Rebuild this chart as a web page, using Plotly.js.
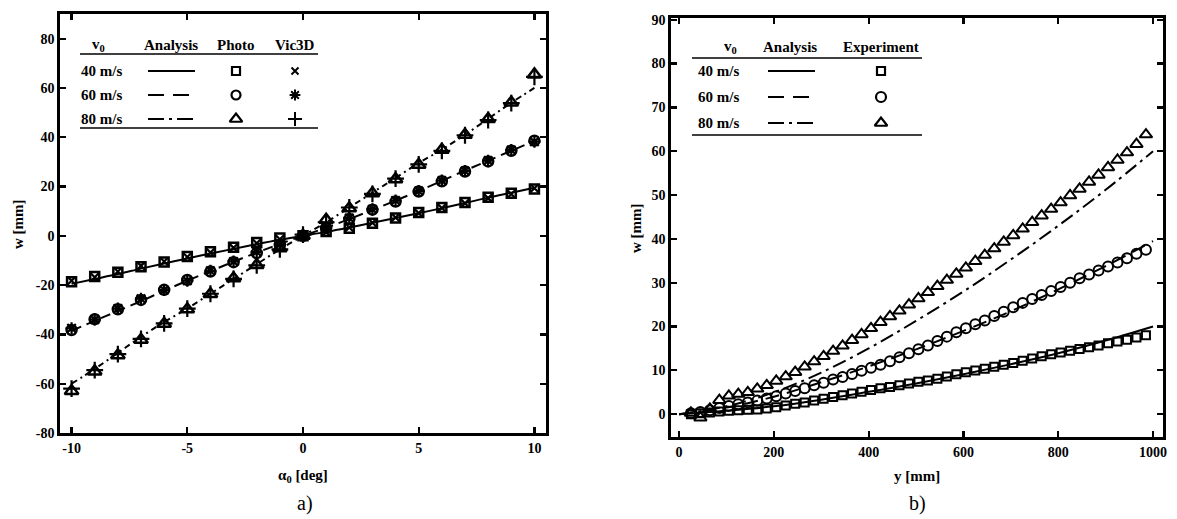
<!DOCTYPE html>
<html>
<head>
<meta charset="utf-8">
<script src="https://cdn.plot.ly/plotly-3.0.1.min.js"></script>
<style>html,body{margin:0;padding:0;background:#fff}#chart{width:1177px;height:519px}</style>
</head>
<body>
<div id="chart"></div>
<script>
// ---------- Panel a) data ----------
const alpha = [-10,-9,-8,-7,-6,-5,-4,-3,-2,-1,0,1,2,3,4,5,6,7,8,9,10];
const anaA40 = [-19.5,-17.5,-15.5,-13.3,-11.2,-9.2,-7.2,-5.3,-3.4,-1.6,0,1.6,3.4,5.3,7.2,9.2,11.2,13.3,15.5,17.5,19.5];
const anaA60 = [-38.5,-34.5,-30.5,-26.5,-22.3,-18.2,-14.3,-10.5,-6.8,-3.3,0,3.3,6.8,10.5,14.3,18.2,22.3,26.5,30.5,34.5,38.5];
const anaA80 = [-60,-54,-47.5,-41,-35,-29.5,-23.5,-17.5,-11.5,-5.5,0,5.5,11.5,17.5,23.5,29.5,35,41,47.5,54,60];
const photo40 = [-18.6,-16.5,-14.8,-12.5,-10.6,-8.4,-6.5,-4.6,-2.7,-0.9,0,1.8,3.1,5.1,7.2,9.5,11.5,13.5,15.6,17.3,19.0];
const photo60 = [-38.2,-33.8,-29.8,-26.0,-21.9,-17.9,-14.5,-10.7,-7.0,-3.7,0,3.2,6.8,10.6,13.9,18.0,22.1,26.1,30.2,34.5,38.6];
const photo80 = [-63,-55,-48.5,-42.2,-35.7,-29.8,-23.6,-17.2,-11.8,-5.0,0,6.5,11.2,17.3,23,28.8,34.9,41,47.4,54.1,65.5];
const vic40 = [-18.2,-16.8,-14.5,-12.2,-10.4,-8.6,-6.8,-4.9,-3.0,-1.4,0.2,1.5,3.4,5.3,7.4,9.2,11.3,13.2,15.3,17.0,19.3];
const vic60 = [-37.5,-34,-29.5,-25.5,-22,-18.2,-14.2,-10.4,-6.5,-3.5,0.3,3.5,7.2,10.8,14.3,18.2,22.4,26.3,30.5,34.8,38.2];
const vic80 = [-62,-54.5,-48,-41.8,-35.5,-29.5,-23.5,-17.5,-12,-5.5,0.5,5.5,11.5,17,23.2,29,34.5,40.8,47,53.8,64.5];
const tickA_x = [-10,-5,0,5,10];
const tickA_xText = ['-10','-5','0','5','10'];
const tickA_y = [-80,-60,-40,-20,0,20,40,60,80];
const tickA_yText = ['-80','-60','-40','-20','0','20','40','60','80'];

// ---------- Panel b) data ----------
const yAna = [0,100,200,300,400,500,600,700,800,900,1000];
const anaB40 = [0,0.8,1.8,3.3,5.1,7.0,9.1,11.4,13.9,16.8,20];
const anaB60 = [0,1.5,4.0,7.3,10.9,14.8,19.0,23.5,28.5,33.8,39.5];
const anaB80 = [0,1.8,5.0,9.5,15.0,21.3,28.0,35.3,43.0,51.2,60];
const yExp = [25,45,65,85,105,125,145,165,185,205,225,245,265,285,305,325,345,365,385,405,425,445,465,485,505,525,545,565,585,605,625,645,665,685,705,725,745,765,785,805,825,845,865,885,905,925,945,965,985];
const exp40 = [0.0,0.2,0.4,0.6,0.8,0.9,1.0,1.1,1.3,1.6,2.0,2.4,2.7,3.1,3.5,3.9,4.3,4.7,5.1,5.5,5.9,6.2,6.6,7.0,7.4,7.7,8.1,8.6,9.1,9.6,10.0,10.4,10.8,11.3,11.7,12.2,12.7,13.2,13.7,14.1,14.5,14.9,15.3,15.7,16.2,16.6,17.0,17.5,18.0];
const exp60 = [0.2,0.5,0.9,1.4,1.9,2.3,2.7,3.1,3.6,4.1,4.7,5.3,5.9,6.6,7.2,7.9,8.5,9.2,9.9,10.6,11.3,12.1,13.0,13.9,14.8,15.7,16.7,17.7,18.7,19.6,20.5,21.4,22.4,23.4,24.4,25.4,26.3,27.2,28.1,29.0,30.0,31.0,31.9,32.8,33.7,34.6,35.6,36.6,37.5];
const exp80 = [0.3,-0.8,1.2,3.2,4.2,4.6,5.0,5.8,6.6,7.6,8.6,9.6,10.8,12.0,13.2,14.4,15.6,16.9,18.2,19.6,21.0,22.3,23.6,25.0,26.4,27.8,29.2,30.6,32.0,33.4,34.9,36.3,37.8,39.3,40.8,42.3,43.8,45.3,46.8,48.3,49.9,51.4,53.0,54.6,56.3,58.0,59.7,61.6,63.8];
const tickB_x = [0,200,400,600,800,1000];
const tickB_y = [0,10,20,30,40,50,60,70,80,90];

// ---------- legend table text ----------
const speeds = ['40 m/s','60 m/s','80 m/s'];
const headA = ['v<sub>0</sub>','Analysis','Photo','Vic3D'];
const headB = ['v<sub>0</sub>','Analysis','Experiment'];

const W = 1177, H = 519;
const serif = '"Liberation Serif", "Times New Roman", serif';
const K = 'black';
const dashA = ['solid','10px,6px','6px,4px,2px,4px'];
const dashB = ['solid','14px,8px','14px,5px,3px,5px'];
const legDash = ['solid','16px,9px','16px,5px,3px,5px'];
const photoSym = ['square-open','circle-open','triangle-up-open'];
const vicSym = ['x-thin','asterisk','cross-thin'];
const bold = (s)=>({family:serif,size:s,color:K,weight:'bold'});

const traces = [];
[anaA40, anaA60, anaA80].forEach((v,i)=>traces.push({x:alpha,y:v,mode:'lines',line:{color:K,width:2,dash:dashA[i],shape:'spline'},xaxis:'x',yaxis:'y',hoverinfo:'skip'}));
[photo40, photo60, photo80].forEach((v,i)=>traces.push({x:alpha,y:v,mode:'markers',marker:{symbol:photoSym[i],size:[9,10,12][i],color:K,line:{color:K,width:2.5}},xaxis:'x',yaxis:'y'}));
[vic40, vic60, vic80].forEach((v,i)=>traces.push({x:alpha,y:v,mode:'markers',marker:{symbol:vicSym[i],size:[8,10,12][i],color:K,line:{color:K,width:2.2}},xaxis:'x',yaxis:'y'}));
[anaB40, anaB60, anaB80].forEach((v,i)=>traces.push({x:yAna,y:v,mode:'lines',line:{color:K,width:2,dash:dashB[i],shape:'spline'},xaxis:'x2',yaxis:'y2',hoverinfo:'skip'}));
[exp40, exp60, exp80].forEach((v,i)=>traces.push({x:yExp,y:v,mode:'markers',marker:{symbol:photoSym[i],size:[8,10,11][i],color:K,line:{color:K,width:2}},xaxis:'x2',yaxis:'y2'}));

const annotations = [];
const shapes = [];
function txt(x,y,t,opt){annotations.push(Object.assign({x:x/W,y:1-y/H,xref:'paper',yref:'paper',text:t,showarrow:false,xanchor:'center',yanchor:'middle',font:bold(15)},opt||{}));}
function hline(x0,x1,y){shapes.push({type:'line',xref:'paper',yref:'paper',x0:x0/W,x1:x1/W,y0:1-y/H,y1:1-y/H,line:{color:K,width:1.3}});}

// table A
const tA = {l:80,r:318,head:45,line1:54,rows:[71,95,119],line2:128,cols:[98,171,236,295],samp:[148,195]};
headA.forEach((h,j)=>txt(tA.cols[j],tA.head,h));
hline(tA.l,tA.r,tA.line1); hline(tA.l,tA.r,tA.line2);
speeds.forEach((s,i)=>{
  txt(tA.cols[0]+3,tA.rows[i],s);
  traces.push({x:tA.samp,y:[tA.rows[i],tA.rows[i]],mode:'lines',line:{color:K,width:2,dash:legDash[i]},xaxis:'x3',yaxis:'y3',hoverinfo:'skip'});
  traces.push({x:[tA.cols[2]],y:[tA.rows[i]],mode:'markers',marker:{symbol:photoSym[i],size:[8,9,11][i],color:K,line:{color:K,width:2.2}},xaxis:'x3',yaxis:'y3'});
  traces.push({x:[tA.cols[3]],y:[tA.rows[i]],mode:'markers',marker:{symbol:vicSym[i],size:[7,9,10][i],color:K,line:{color:K,width:2}},xaxis:'x3',yaxis:'y3'});
});
// table B
const tB = {l:692,r:922,head:47,line1:58,rows:[71,97,123],line2:135,cols:[730,790,881],samp:[768,815]};
headB.forEach((h,j)=>txt(tB.cols[j],tB.head,h));
hline(tB.l,tB.r,tB.line1); hline(tB.l,tB.r,tB.line2);
speeds.forEach((s,i)=>{
  txt(tB.cols[0]-12,tB.rows[i],s);
  traces.push({x:tB.samp,y:[tB.rows[i],tB.rows[i]],mode:'lines',line:{color:K,width:2,dash:legDash[i]},xaxis:'x3',yaxis:'y3',hoverinfo:'skip'});
  traces.push({x:[tB.cols[2]],y:[tB.rows[i]],mode:'markers',marker:{symbol:photoSym[i],size:[8,10,11][i],color:K,line:{color:K,width:2.2}},xaxis:'x3',yaxis:'y3'});
});

txt(18,224,'w [mm]',{textangle:-90,font:bold(15)});
txt(636,228,'w [mm]',{textangle:-90,font:bold(15)});
txt(303,476,'α<sub>0</sub> [deg]');
txt(917,476,'y [mm]');
txt(305,503,'a)',{font:{family:serif,size:20,color:K}});
txt(917,503,'b)',{font:{family:serif,size:20,color:K}});

const axBase = {showline:true,linecolor:K,linewidth:2.8,mirror:'ticks',ticks:'inside',ticklen:6,tickwidth:2.2,tickcolor:K,showgrid:false,zeroline:false,tickfont:bold(14)};
const layout = {
  width:W,height:H,margin:{l:0,r:0,t:0,b:0},paper_bgcolor:'#fff',plot_bgcolor:'rgba(0,0,0,0)',showlegend:false,
  xaxis:Object.assign({},axBase,{domain:[60/W,546/W],range:[-10.5,10.5],tickmode:'array',tickvals:tickA_x,ticktext:tickA_xText,anchor:'y'}),
  yaxis:Object.assign({},axBase,{domain:[1-433/H,1-14/H],range:[-80,90],tickmode:'array',tickvals:tickA_y,ticktext:tickA_yText,anchor:'x'}),
  xaxis2:Object.assign({},axBase,{domain:[671/W,1163/W],range:[-17,1021],tickmode:'array',tickvals:tickB_x,ticktext:tickB_x.map(String),anchor:'y2'}),
  yaxis2:Object.assign({},axBase,{domain:[1-437/H,1-18/H],range:[-5.2,90.4],tickmode:'array',tickvals:tickB_y,ticktext:tickB_y.map(String),anchor:'x2'}),
  xaxis3:{domain:[0,1],range:[0,W],visible:false,anchor:'y3',fixedrange:true},
  yaxis3:{domain:[0,1],range:[H,0],visible:false,anchor:'x3',fixedrange:true},
  annotations:annotations,shapes:shapes
};
Plotly.newPlot('chart',traces,layout,{staticPlot:true});
</script>
</body>
</html>
